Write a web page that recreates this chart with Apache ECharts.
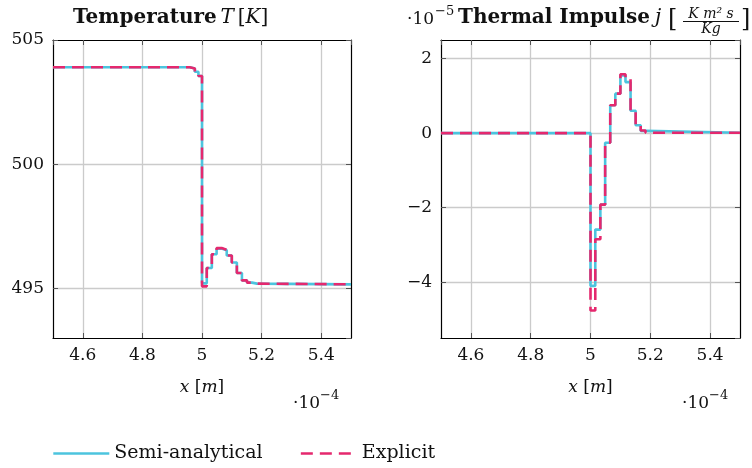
<!DOCTYPE html>
<html>
<head>
<meta charset="utf-8">
<script src="https://cdn.jsdelivr.net/npm/echarts@6/dist/echarts.min.js"></script>
<style>html,body{margin:0;padding:0;background:#fff;}#c{width:752px;height:468px;}</style>
</head>
<body>
<div id="c"></div>
<script>
// ---- data (x in units of 1e-4 m) ----
const cellEdges = [4.5, 4.959, 4.976, 4.988, 5.0, 5.016, 5.033, 5.049, 5.066, 5.083, 5.1, 5.117, 5.134, 5.151, 5.168, 5.184, 5.5];
const tempSemi     = [503.9, 503.85, 503.72, 503.55, 495.2, 495.82, 496.37, 496.6, 496.53, 496.32, 496.04, 495.62, 495.32, 495.23, 495.19, 495.16];
const tempExplicit = [503.9, 503.85, 503.72, 503.55, 495.08, 495.82, 496.37, 496.62, 496.55, 496.32, 496.04, 495.62, 495.32, 495.23, 495.19, 495.16];
const impulseSemi     = [0, 0, 0, 0, -4.10, -2.59, -1.92, -0.26, 0.75, 1.06, 1.55, 1.37, 0.60, 0.21, 0.06, 0.01];
const impulseExplicit = [0, 0, 0, 0, -4.76, -2.85, -1.92, -0.26, 0.75, 1.06, 1.58, 1.45, 0.60, 0.22, 0.07, 0.01];
const seriesNames = ['Semi-analytical', 'Explicit'];

function stepData(edges, vals) {
  const out = [];
  for (let i = 0; i < vals.length; i++) {
    out.push([edges[i], vals[i]]);
    out.push([edges[i + 1], vals[i]]);
  }
  return out;
}

const FONT = 'DejaVu Serif';
const CYAN = '#4cc4de';
const MAG = '#e5286e';
const GRIDC = '#cbcbcb';
const AXC = '#000';

function xMain(gi) {
  return {
    gridIndex: gi, type: 'value', min: 4.5, max: 5.5, position: 'bottom',
    axisLine: { show: true, onZero: false, lineStyle: { color: AXC, width: 1.2 } },
    axisTick: { show: true, inside: true, length: 5, lineStyle: { color: '#555', width: 1 } },
    axisLabel: { showMinLabel: false, showMaxLabel: false, fontSize: 17, color: '#111', margin: 9, fontFamily: FONT },
    splitLine: { show: true, showMinLine: false, showMaxLine: false, lineStyle: { color: GRIDC, width: 1.3 } },
    name: '{i|x} [{i|m}]', nameLocation: 'middle', nameGap: 41,
    nameTextStyle: { fontSize: 17, color: '#111', fontFamily: FONT, rich: { i: { fontStyle: 'italic', fontSize: 17, fontFamily: FONT, color: '#111' } } }
  };
}
function xTop(gi) {
  return {
    gridIndex: gi, type: 'value', min: 4.5, max: 5.5, position: 'top',
    axisLine: { show: true, onZero: false, lineStyle: { color: AXC, width: 1.2 } },
    axisTick: { show: true, inside: true, length: 5, lineStyle: { color: '#555', width: 1 } },
    axisLabel: { show: false }, splitLine: { show: false }
  };
}
function yAxis(gi, min, max, split, pos, labels, showMax) {
  return {
    gridIndex: gi, type: 'value', min: min, max: max, splitNumber: split, position: pos,
    axisLine: { show: true, onZero: false, lineStyle: { color: AXC, width: 1.2 } },
    axisTick: { show: true, inside: true, length: 5, lineStyle: { color: '#555', width: 1 } },
    axisLabel: labels ? {
      showMinLabel: false, showMaxLabel: showMax, fontSize: 17, color: '#111', margin: 9, fontFamily: FONT,
      formatter: v => String(v).replace('-', '\u2212')
    } : { show: false },
    splitLine: { show: labels, showMinLine: false, showMaxLine: false, lineStyle: { color: GRIDC, width: 1.3 } }
  };
}

function lineSeries(name, xi, yi, data, color, dashed) {
  return {
    name: name, type: 'line', xAxisIndex: xi, yAxisIndex: yi, data: data,
    symbol: 'none', showSymbol: false, clip: true,
    lineStyle: { color: color, width: 2.6, type: dashed ? [12, 7] : 'solid' },
    itemStyle: { color: color }, z: dashed ? 4 : 3
  };
}

const chart = echarts.init(document.getElementById('c'), null, { renderer: 'canvas' });
const tStyle = { fontFamily: FONT, fill: '#111' };
function txt(x, y, text, extra) {
  return { type: 'text', x: x, y: y, style: Object.assign({}, tStyle, { text: text, verticalAlign: 'middle' }, extra) };
}
chart.setOption({
  animation: false,
  backgroundColor: '#fff',
  grid: [
    { left: 53, top: 40, width: 298, height: 298, show: false },
    { left: 441, top: 40, width: 299, height: 298, show: false }
  ],
  xAxis: [xMain(0), xMain(1), xTop(0), xTop(1)],
  yAxis: [
    yAxis(0, 493, 505, 2, 'left', true, true),
    yAxis(1, -5.5, 2.5, 4, 'left', true, false),
    yAxis(0, 493, 505, 2, 'right', false, false),
    yAxis(1, -5.5, 2.5, 4, 'right', false, false)
  ],
  legend: {
    left: 52, top: 444, padding: 0, itemWidth: 56, itemHeight: 14, itemGap: 37,
    data: seriesNames,
    itemStyle: { opacity: 0 },
    lineStyle: { width: 2.6 },
    textStyle: { fontSize: 19, fontFamily: FONT, color: '#111' }
  },
  series: [
    lineSeries(seriesNames[0], 0, 0, stepData(cellEdges, tempSemi), CYAN, false),
    lineSeries(seriesNames[1], 0, 0, stepData(cellEdges, tempExplicit), MAG, true),
    lineSeries(seriesNames[0], 1, 1, stepData(cellEdges, impulseSemi), CYAN, false),
    lineSeries(seriesNames[1], 1, 1, stepData(cellEdges, impulseExplicit), MAG, true)
  ],
  graphic: [
    // left title
    txt(73, 18, '{b|Temperature} {i|T} {r|[}{i|K}{r|]}', {
        rich: {
          b: { fontWeight: 'bold', fontSize: 20, fontFamily: FONT },
          i: { fontStyle: 'italic', fontSize: 20, fontFamily: FONT },
          r: { fontSize: 20, fontFamily: FONT }
        } }),
    // right title
    txt(407, 20, '\u00b710', { fontSize: 17 }),
    txt(435, 12, '\u22125', { fontSize: 13 }),
    txt(458, 18, 'Thermal Impulse', { fontSize: 20, fontWeight: 'bold' }),
    txt(655, 18, 'j', { fontSize: 20, fontStyle: 'italic' }),
    txt(668, 20, '[', { fontSize: 24 }),
    txt(711, 14, 'K m\u00b2 s', { fontSize: 14, fontStyle: 'italic', align: 'center' }),
    { type: 'line', shape: { x1: 683, y1: 21.5, x2: 739, y2: 21.5 }, style: { stroke: '#111', lineWidth: 1 } },
    txt(711, 29, 'Kg', { fontSize: 14, fontStyle: 'italic', align: 'center' }),
    txt(741, 20, ']', { fontSize: 24 }),
    // x multipliers
    txt(293, 404, '\u00b710', { fontSize: 17 }),
    txt(320, 396, '\u22124', { fontSize: 13 }),
    txt(682, 404, '\u00b710', { fontSize: 17 }),
    txt(709, 396, '\u22124', { fontSize: 13 })
  ]
});
</script>
</body>
</html>
